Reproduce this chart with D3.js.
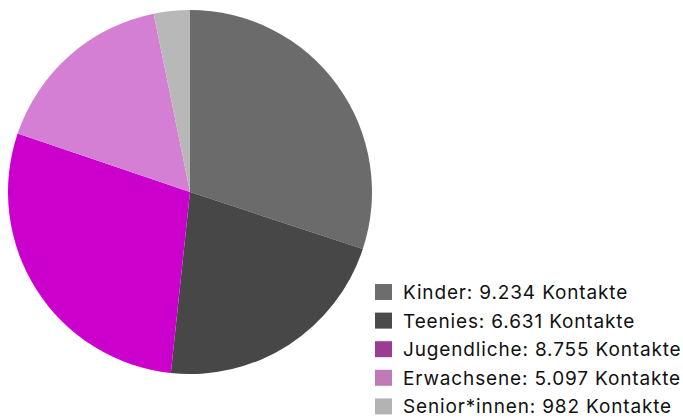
<!DOCTYPE html>
<html><head><meta charset="utf-8">
<script src="https://cdn.jsdelivr.net/npm/d3@7"></script>
<style>body{margin:0;background:#fff}svg{display:block}</style>
</head><body>
<script>
const categories = ["Kinder", "Teenies", "Jugendliche", "Erwachsene", "Senior*innen"];
const values = [9234, 6631, 8755, 5097, 982];
const valueLabels = ["9.234", "6.631", "8.755", "5.097", "982"];
const pieColors = ["#6b6b6b", "#474747", "#cc00cc", "#d47fd4", "#b8b8b8"];
const legendColors = ["#6d6d6d", "#4a4a4a", "#9a3c94", "#c07ab8", "#b3b3b3"];

const W = 683, H = 419;
const svg = d3.select("body").append("svg").attr("width", W).attr("height", H);
const cx = 190, cy = 192, r = 182;
const data = categories.map((c, i) => ({c, v: values[i], i}));
const pie = d3.pie().value(d => d.v).sort(null);
const arc = d3.arc().innerRadius(0).outerRadius(r);
svg.append("g").attr("transform", `translate(${cx},${cy})`)
  .selectAll("path").data(pie(data)).join("path")
  .attr("d", arc).attr("fill", d => pieColors[d.data.i]);

const ly = d3.scaleBand().domain(categories).range([278, 421]);
const lg = svg.append("g");
const rows = lg.selectAll("g").data(data).join("g")
  .attr("transform", d => `translate(375,${ly(d.c)})`);
rows.append("rect").attr("x", 0).attr("y", 6).attr("width", 17).attr("height", 16)
  .attr("fill", d => legendColors[d.i]);
rows.append("text").attr("x", 28).attr("y", 21)
  .attr("font-family", "Inter, sans-serif").attr("font-size", 19)
  .attr("letter-spacing", 0.85).attr("fill", "#111")
  .text(d => `${d.c}: ${valueLabels[d.i]} Kontakte`);
</script>
</body></html>
